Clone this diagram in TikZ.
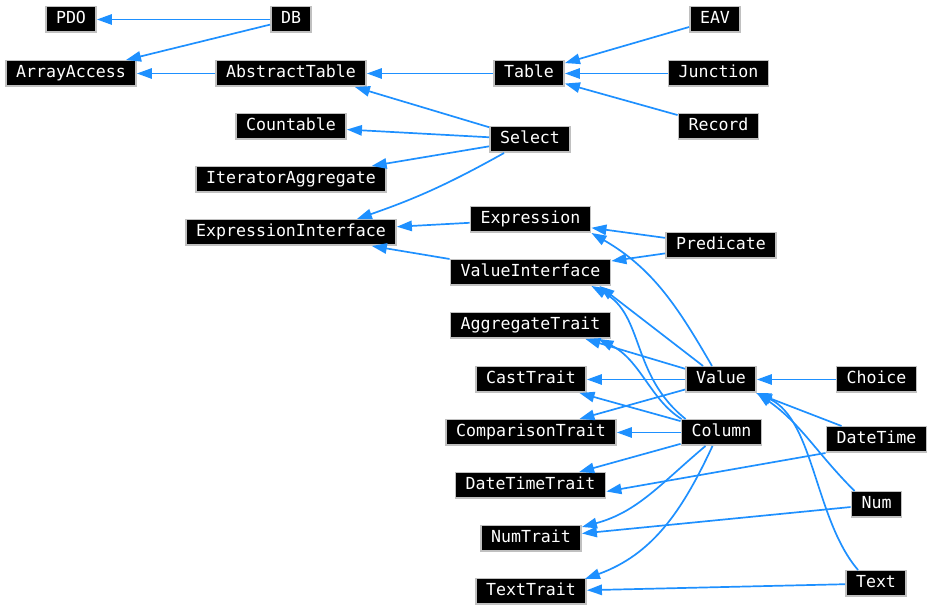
\documentclass[tikz,border=0pt]{standalone}
\usepackage{fontspec}
\setmonofont{DejaVu Sans Mono}
\usepackage{tikz}
\usepackage{xcolor}
\usetikzlibrary{arrows.meta,calc}
\definecolor{inhblue}{HTML}{1E90FF}
\definecolor{boxgray}{HTML}{C0C0C0}

\begin{document}
\begin{tikzpicture}[x=0.5pt,y=0.5pt,>={Triangle[length=7.5pt,width=5.2pt]},
  cls/.style={draw=boxgray,fill=black,text=white,line width=0.75pt,
    font=\ttfamily\fontsize{8.3}{10}\selectfont,inner xsep=5.1pt,inner ysep=0pt,
    minimum height=12.75pt,text height=6.2pt,text depth=1.7pt},
  inh/.style={->,draw=inhblue,line width=0.85pt}]
  \useasboundingbox (0,0) rectangle (933,-613);
  \foreach \n/\x/\y in {PDO/71/19.5, DB/291/19.5, ArrayAccess/71/73.5,
      AbstractTable/291/73.5, Table/529/73.5, EAV/715/19.5, Junction/718.5/73.5,
      Record/718.5/126.5, Countable/291/126.5, Select/530/139.5,
      IteratorAggregate/291/179.5, ExpressionInterface/291/232.5,
      Expression/530.5/219.5, Predicate/721/245.5, ValueInterface/530.5/272.5,
      AggregateTrait/530.5/325.5, CastTrait/531/379.5, Value/721/379.5,
      Choice/876.5/379.5, ComparisonTrait/531/432.5, Column/721.5/432.5,
      DateTime/876.5/439.5, DateTimeTrait/530.5/485.5, Num/876.5/504.5,
      NumTrait/531/538.5, Text/876/583.5, TextTrait/531/591.5}
    \node[cls] (\n) at (\x,-\y) {\n};

  % database and tables
  \draw[inh] (DB) -- (PDO);
  \draw[inh] (DB) -- (ArrayAccess);
  \draw[inh] (AbstractTable) -- (ArrayAccess);
  \draw[inh] (Table) -- (AbstractTable);
  \draw[inh] (EAV) -- (Table);
  \draw[inh] (Junction) -- (Table);
  \draw[inh] (Record) -- (Table);

  % select
  \draw[inh] (Select) -- ($(AbstractTable.south east)+(-12,0)$);
  \draw[inh] (Select) -- (Countable);
  \draw[inh] (Select) -- (IteratorAggregate);
  \draw[inh] ($(Select.south west)+(15,0)$) to[bend left=5]
    ($(ExpressionInterface.north east)+(-40,0)$);

  % expressions
  \draw[inh] (Expression) -- (ExpressionInterface);
  \draw[inh] (ValueInterface) -- (ExpressionInterface);
  \draw[inh] (Predicate) -- (Expression);
  \draw[inh] (Predicate) -- (ValueInterface);

  % value
  \draw[inh] ($(Value.north)+(-9,0)$) to[out=120,in=-30] (Expression.south east);
  \draw[inh] ($(Value.north west)+(18,0)$) -- ($(ValueInterface.south east)+(-12,0)$);
  \draw[inh] (Value) -- ($(AggregateTrait.south east)+(-26,0)$);
  \draw[inh] (Value) -- (CastTrait);
  \draw[inh] (Value) -- (ComparisonTrait);

  % column
  \draw[inh] ($(Column.north west)+(5,0)$) .. controls +(-55,44) and +(53,-29)
    .. ($(ValueInterface.south east)+(-20,0)$);
  \draw[inh] ($(Column.north west)+(1,0)$) .. controls +(-31,19) and +(42,-21)
    .. ($(AggregateTrait.south east)+(-13,0)$);
  \draw[inh] (Column) -- (CastTrait);
  \draw[inh] (Column) -- (ComparisonTrait);
  \draw[inh] (Column) -- (DateTimeTrait);
  \draw[inh] ($(Column.south)+(-16,0)$) to[out=-140,in=15] ($(NumTrait.north east)+(0,-2)$);
  \draw[inh] ($(Column.south)+(-9,0)$) to[out=-115,in=20] ($(TextTrait.north east)+(-2,-1)$);

  % concrete values
  \draw[inh] (Choice) -- (Value);
  \draw[inh] (DateTime) -- (Value);
  \draw[inh] ($(Num.north west)+(4,0)$) to[out=135,in=-35] (Value.south east);
  \draw[inh] ($(Text.north west)+(13,0)$) .. controls +(-43,50) and +(57,-27)
    .. (Value.south east);
  \draw[inh] (DateTime.south west) -- ($(DateTimeTrait.east)+(0,-6)$);
  \draw[inh] (Num) -- (NumTrait);
  \draw[inh] (Text) -- (TextTrait);
\end{tikzpicture}
\end{document}
